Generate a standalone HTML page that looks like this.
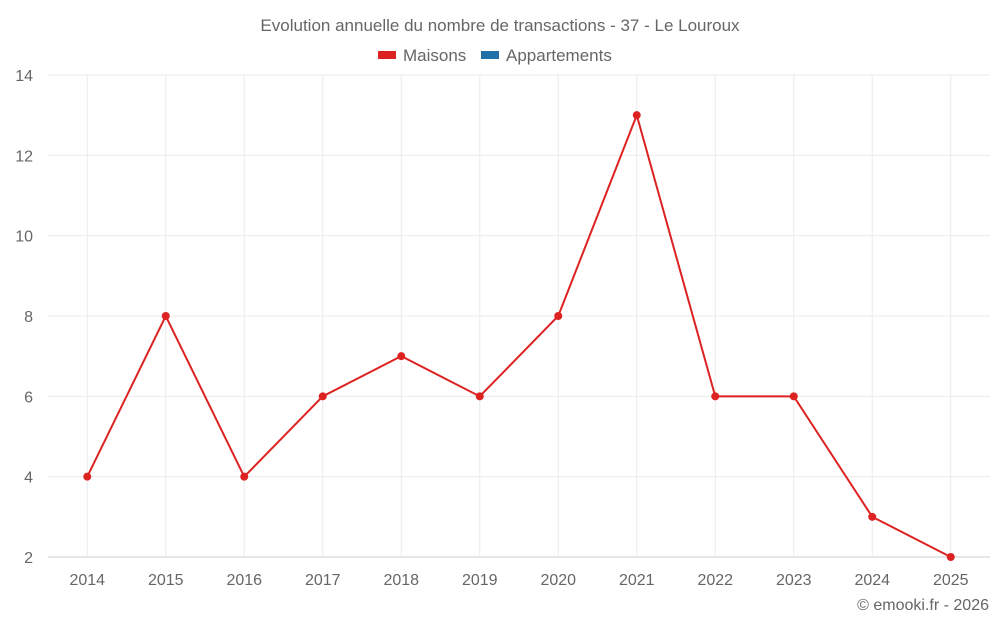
<!DOCTYPE html>
<html><head><meta charset="utf-8"><style>
body{margin:0;background:#fff;font-family:"Liberation Sans",sans-serif;}
svg text{font-family:"Liberation Sans",sans-serif;fill:#666;}
</style></head><body>
<svg id="c" width="1000" height="625">
<text x="500" y="31" text-anchor="middle" font-size="17">Evolution annuelle du nombre de transactions - 37 - Le Louroux</text>
<g>
<rect x="378" y="51" width="18" height="8" fill="#dd2222"/>
<text x="403" y="61" font-size="17">Maisons</text>
<rect x="481" y="51" width="18" height="8" fill="#1f6fa8"/>
<text x="506" y="61" font-size="17">Appartements</text>
</g>
<g id="grid"></g><g id="axes"></g><g id="series"></g>
<text x="989" y="610" text-anchor="end" font-size="16">© emooki.fr - 2026</text>
</svg>
<script>
const categories=["2014","2015","2016","2017","2018","2019","2020","2021","2022","2023","2024","2025"];
const maisons=[4,8,4,6,7,6,8,13,6,6,3,2];
const yTicks=[2,4,6,8,10,12,14];
const NS="http://www.w3.org/2000/svg";
const L=48,R=990,T=75,B=557,yMin=2,yMax=14;
const band=(R-L)/categories.length;
const x=i=>L+band*(i+0.5);
const y=v=>B-(v-yMin)/(yMax-yMin)*(B-T);
function mk(tag,attrs,parent){const e=document.createElementNS(NS,tag);for(const k in attrs)e.setAttribute(k,attrs[k]);parent.appendChild(e);return e;}
const grid=document.getElementById('grid'),axes=document.getElementById('axes'),series=document.getElementById('series');
yTicks.forEach(v=>{
 const l=mk('line',{x1:L,x2:R,y1:y(v),y2:y(v),stroke:v===yMin?'#ccc':'#ebebeb'},grid);
 
 
 const t=mk('text',{x:33,y:y(v)+6,'text-anchor':'end','font-size':16},axes);
 t.textContent=v;
 
 
});
categories.forEach((c,i)=>{
 const l=mk('line',{x1:x(i),x2:x(i),y1:T,y2:B,stroke:'#ebebeb'},grid);
 
 
 const t=mk('text',{x:x(i),y:585,'text-anchor':'middle','font-size':16},axes);
 t.textContent=c;
 
 
});
const p=mk('polyline',{points:maisons.map((v,i)=>x(i)+','+y(v)).join(' '),fill:'none',stroke:'#dd2222','stroke-width':2},series);


maisons.forEach((v,i)=>{
 const c=mk('circle',{cx:x(i),cy:y(v),r:4,fill:'#dd2222'},series);
 
 
});
</script>
</body></html>
